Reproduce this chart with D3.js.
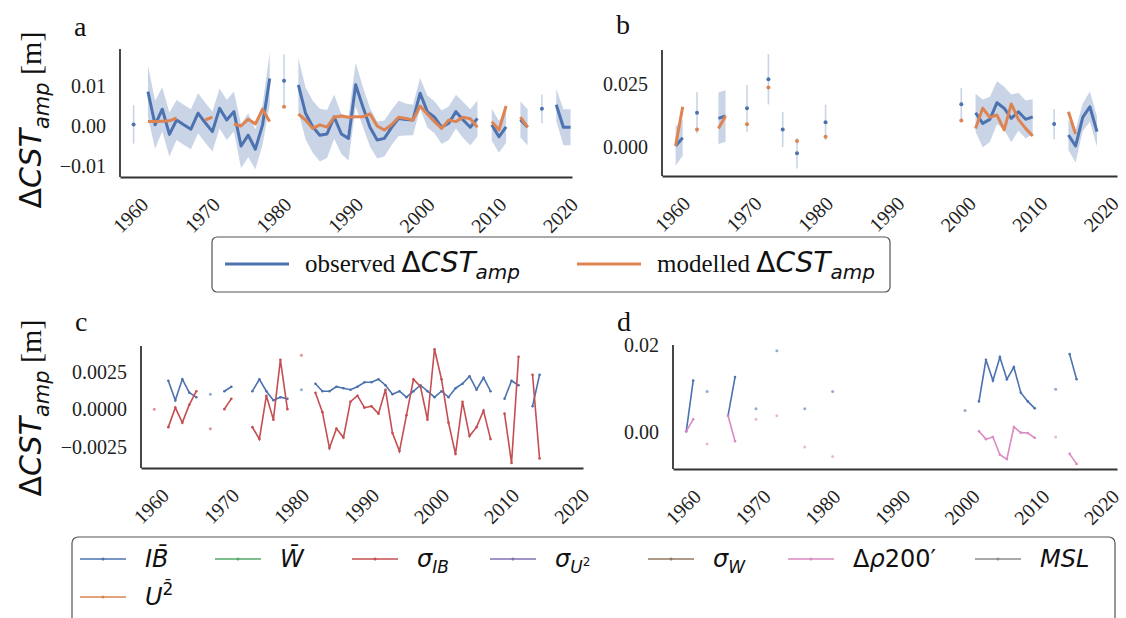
<!DOCTYPE html>
<html>
<head>
<meta charset="utf-8">
<script src="https://cdn.jsdelivr.net/npm/d3@7"></script>
<style>
  body { margin: 0; background: #fff; }
  svg { display: block; }
</style>
</head>
<body>
<div id="chart"></div>
<script>
// ---------- data ----------
// panel a : observed / modelled amplitude change, with half-width of the confidence band
const yearsA = [1960,
  1962,1963,1964,1965,1966,1967,1968,1969,1970,1971,1972,1973,1974,1975,1976,1977,1978,1979,
  1981,
  1983,1984,1985,1986,1987,1988,1989,1990,1991,1992,1993,1994,1995,1996,1997,1998,1999,2000,2001,2002,2003,2004,2005,2006,2007,2008,
  2010,2011,2012, 2014,2015, 2017, 2019,2020,2021];
const obsA = [0.0004,
  0.0086,0.0003,0.0042,-0.0021,0.0015,0.0003,-0.0008,0.0032,0.0008,-0.0014,0.0044,0.0015,0.0036,-0.005,-0.0023,-0.0058,0.0003,0.0119,
  0.0113,
  0.0103,0.0032,-0.0002,-0.0023,-0.002,0.0023,-0.002,-0.0031,0.0103,0.0048,-0.0003,-0.0035,-0.0031,-0.0004,0.0019,0.0016,0.0015,0.0082,0.0036,0.0022,-0.0003,0.0007,0.0036,0.0015,-0.0003,0.0019,
  0.0003,-0.0027,-0.0002, 0.0016,-0.0003, 0.0043, 0.0053,-0.0003,-0.0003];
const modA = [null,
  0.0011,0.0011,0.0012,0.0013,0.002,null,null,null,0.0015,0.0022,null,null,0.0005,0.0,0.0017,0.0005,0.0042,0.0011,
  0.0048,
  0.003,0.0015,-0.0006,0.0003,-0.0003,0.0022,0.0025,0.0022,0.0023,0.0023,0.003,0.0,-0.001,0.0003,0.0022,0.0019,0.0015,0.005,0.003,0.0011,-0.0006,0.0015,0.0011,0.0022,0.0018,-0.0003,
  0.0011,-0.001,0.005, 0.0022,-0.0003, null, null,null,null];
const ciA = [0.0048,
  0.0065,0.006,0.0055,0.0055,0.005,0.005,0.005,0.005,0.005,0.005,0.005,0.005,0.005,0.0055,0.0055,0.005,0.005,0.0065,
  0.0066,
  0.0067,0.0065,0.0065,0.0066,0.006,0.0055,0.005,0.0055,0.0055,0.005,0.0048,0.0046,0.0045,0.0044,0.0044,0.004,0.0038,0.0038,0.004,0.004,0.0042,0.0042,0.0042,0.0045,0.0045,0.0045,
  0.004,0.004,0.004, 0.0045,0.0045, 0.0036, 0.004,0.0045,0.0045];

// panel b
const yearsB = [1960,1961, 1963, 1966,1967, 1970, 1973, 1975, 1977, 1981, 2000,
  2002,2003,2004,2005,2006,2007,2008,2009,2010, 2013, 2015,2016,2017,2018,2019];
const obsB = [0.0005,0.0038, 0.0137, 0.0115,0.0124, 0.0155, 0.027, 0.0071, -0.0024, 0.0099, 0.0171,
  0.0137,0.0095,0.0111,0.0177,0.0155,0.0115,0.0141,0.0111,0.0121, 0.0092, 0.0049,0.0005,0.0119,0.0161,0.0062];
const modB = [0.0005,0.0161, 0.0071, 0.0075,0.0124, 0.0091, 0.0237, null, 0.0025, 0.0042, 0.0106,
  0.0075,0.0155,0.0119,0.0128,0.0069,0.0172,0.0111,0.0075,0.0045, null, 0.0141,0.0053,null,null,null];
const ciB = [0.0078,0.0072, 0.0082, 0.0102,0.0102, 0.0093, 0.01, 0.007, 0.006, 0.007, 0.0065,
  0.0075,0.0095,0.009,0.0085,0.0085,0.0095,0.0075,0.0075,0.007, 0.006, 0.006,0.0065,0.0055,0.006,0.006];

// panel c : components
const yearsC = [1960, 1962,1963,1964,1965,1966, 1968, 1970,1971, 1974,1975,1976,1977,1978,1979, 1981,
  1983,1984,1985,1986,1987,1988,1989,1990,1991,1992,1993,1994,1995,1996,1997,1998,1999,2000,2001,2002,2003,2004,2005,2006,2007,2008,
  2010,2011,2012, 2014,2015];
const ibC = [null, 0.0019,0.0006,0.002,0.0011,0.0008, 0.001, 0.0012,0.0015, 0.0012,0.002,0.0012,0.0006,0.0008,0.0007, 0.0013,
  0.0017,0.0012,0.0012,0.0015,0.0014,0.0013,0.0015,0.0018,0.0018,0.002,0.0016,0.001,0.0012,0.0008,0.0012,0.0016,0.0012,0.0008,0.0012,0.0008,0.0014,0.0017,0.0022,0.0013,0.0021,0.0012,
  0.0007,0.0019,0.0016, 0.0002,0.0023];
const sigIbC = [0.0, -0.0012,0.0001,-0.0009,0.0003,0.0012, -0.0013, 0.0,0.0007, -0.0012,-0.002,0.0009,-0.0007,0.0033,0.0, 0.0036,
  0.0011,-0.0002,-0.0026,-0.0013,-0.0019,0.0005,0.0009,0.0001,0.0002,-0.0003,0.0013,-0.0016,-0.0028,-0.0004,0.002,0.0015,-0.0007,0.004,0.002,-0.0009,-0.003,0.0005,-0.0018,-0.0012,-0.0001,-0.002,
  -0.0003,-0.0036,0.0035, 0.0023,-0.0033];

// panel d
const yearsD = [1960,1961, 1963, 1966,1967, 1970, 1973, 1977, 1981, 2000,
  2002,2003,2004,2005,2006,2007,2008,2009,2010, 2013, 2015,2016];
const ibD = [0.0001,0.0118, 0.0093, 0.0037,0.0126, 0.0053, 0.0187, 0.0053, 0.0093, 0.0049,
  0.007,0.0166,0.0118,0.0172,0.0121,0.0149,0.009,0.007,0.0054, 0.0098, 0.0179,0.0121];
const rhoD = [0.0001,0.0029, -0.0028, 0.0037,-0.0022, 0.0029, 0.0037, -0.0035, -0.0057, null,
  0.0001,-0.0017,-0.0012,-0.0053,-0.0063,0.0011,-0.0002,-0.0003,-0.0014, -0.0012, -0.0051,-0.0074];

const xTickYears = [1960, 1970, 1980, 1990, 2000, 2010, 2020];

// ---------- style ----------
const C = {blue: "#4c72b0", orange: "#dd8452", green: "#55a868", red: "#c44e52",
  purple: "#8172b3", brown: "#937860", pink: "#da8bc3", gray: "#8c8c8c"};
const MATH = "DejaVu Sans", SERIF = "Liberation Serif, Times New Roman, serif";

const width = 1126, height = 618;
const svg = d3.select("#chart").append("svg")
  .attr("width", width).attr("height", height)
  .attr("viewBox", [0, 0, width, height]);

// panel boxes (pixels)
const panels = {
  a: {x0: 120, x1: 572, xdom: [1958.6, 2021.7], top: 49, bot: 177, ydom: [-0.01275, 0.01925], ticks: [-0.01, 0, 0.01], fmt: ".2f"},
  b: {x0: 662, x1: 1117, xdom: [1958.6, 2022.3], top: 50, bot: 176, ydom: [-0.01139, 0.03861], ticks: [0, 0.025], fmt: ".3f"},
  c: {x0: 141, x1: 583, xdom: [1958.6, 2021.7], top: 346, bot: 468, ydom: [-0.00393, 0.00422], ticks: [-0.0025, 0, 0.0025], fmt: ".4f"},
  d: {x0: 673, x1: 1117, xdom: [1958.6, 2022.3], top: 345, bot: 469, ydom: [-0.00858, 0.02], ticks: [0, 0.02], fmt: ".2f"}
};

function runs(years) {
  const out = [];
  let cur = [0];
  for (let i = 1; i < years.length; i++) {
    if (years[i] - years[i - 1] === 1) cur.push(i);
    else { out.push(cur); cur = [i]; }
  }
  out.push(cur);
  return out;
}

function scales(p) {
  const x = d3.scaleLinear().domain(p.xdom).range([p.x0, p.x1]);
  const y = d3.scaleLinear().domain(p.ydom).range([p.bot, p.top]);
  return {x, y};
}

function drawAxes(p, x, y) {
  const gy = svg.append("g").attr("transform", `translate(${p.x0},0)`)
    .call(d3.axisLeft(y).tickValues(p.ticks).tickSize(0).tickSizeOuter(0).tickPadding(14).tickFormat(d3.format(p.fmt)));
  gy.select(".domain").attr("stroke", "#333").attr("stroke-width", 1.8)
    .attr("d", `M0,${p.bot}V${p.top}`);
  gy.selectAll("text").attr("font-family", SERIF).attr("font-size", 20).attr("fill", "#222");

  const gx = svg.append("g").attr("transform", `translate(0,${p.bot})`)
    .call(d3.axisBottom(x).tickValues(xTickYears).tickSize(0).tickSizeOuter(0).tickFormat(d3.format("d")));
  gx.select(".domain").attr("stroke", "#333").attr("stroke-width", 1.8);
  gx.selectAll("text")
    .attr("font-family", SERIF).attr("font-size", 20).attr("fill", "#222")
    .attr("y", 0).attr("dy", "0.35em")
    .attr("text-anchor", "middle")
    .attr("transform", "translate(0,38) rotate(-45)");
}

function drawModelPanel(p, years, obs, mod, ci) {
  const {x, y} = scales(p);
  const g = svg.append("g");
  const X = i => x(years[i] + 0.5);
  runs(years).forEach(r => {
    if (r.length > 1) {
      g.append("path").datum(r)
        .attr("d", d3.area().x(X).y0(i => y(obs[i] - ci[i])).y1(i => y(obs[i] + ci[i])))
        .attr("fill", C.blue).attr("fill-opacity", 0.3);
      g.append("path").datum(r)
        .attr("d", d3.line().x(X).y(i => y(obs[i])))
        .attr("fill", "none").attr("stroke", C.blue).attr("stroke-width", 3).attr("stroke-linejoin", "round");
      g.append("path").datum(r)
        .attr("d", d3.line().defined(i => mod[i] != null).x(X).y(i => y(mod[i])))
        .attr("fill", "none").attr("stroke", C.orange).attr("stroke-width", 3).attr("stroke-linejoin", "round");
    } else {
      const i = r[0];
      g.append("line")
        .attr("x1", X(i)).attr("x2", X(i))
        .attr("y1", y(obs[i] - ci[i])).attr("y2", y(obs[i] + ci[i]))
        .attr("stroke", C.blue).attr("stroke-opacity", 0.3).attr("stroke-width", 1.6);
      g.append("circle").attr("cx", X(i)).attr("cy", y(obs[i])).attr("r", 2).attr("fill", C.blue);
      if (mod[i] != null)
        g.append("circle").attr("cx", X(i)).attr("cy", y(mod[i])).attr("r", 2).attr("fill", C.orange);
    }
  });
  drawAxes(p, x, y);
}

function drawCompPanel(p, years, series) {
  const {x, y} = scales(p);
  const g = svg.append("g");
  const X = i => x(years[i] + 0.5);
  runs(years).forEach(r => {
    series.forEach(s => {
      const pts = r.filter(i => s.vals[i] != null);
      if (r.length > 1) {
        g.append("path").datum(r)
          .attr("d", d3.line().defined(i => s.vals[i] != null).x(X).y(i => y(s.vals[i])))
          .attr("fill", "none").attr("stroke", s.color).attr("stroke-width", 1.6);
      }
      g.selectAll(null).data(pts).join("circle")
        .attr("cx", X).attr("cy", i => y(s.vals[i]))
        .attr("r", r.length > 1 ? 1.3 : 1.5)
        .attr("fill", s.color).attr("fill-opacity", r.length > 1 ? 1 : 0.6);
    });
  });
  drawAxes(p, x, y);
}

drawModelPanel(panels.a, yearsA, obsA, modA, ciA);
drawModelPanel(panels.b, yearsB, obsB, modB, ciB);
drawCompPanel(panels.c, yearsC, [{vals: ibC, color: C.blue}, {vals: sigIbC, color: C.red}]);
drawCompPanel(panels.d, yearsD, [{vals: ibD, color: C.blue}, {vals: rhoD, color: C.pink}]);

// ---------- text helpers ----------
function rich(text, parts) {
  parts.forEach(q => {
    text.append("tspan")
      .attr("font-family", q.f || MATH)
      .attr("font-style", q.i ? "italic" : "normal")
      .attr("font-size", q.s)
      .attr("dy", q.dy || 0)
      .text(q.t);
  });
  return text;
}

const cstParts = (s, ss) => [
  {t: "Δ", s: s}, {t: "CST", s: s, i: 1}, {t: "amp", s: ss, i: 1, dy: s * 0.25}
];

// panel letters
[["a", 74, 36], ["b", 616, 34], ["c", 75, 331], ["d", 617, 331]].forEach(([t, px, py]) => {
  svg.append("text").attr("x", px).attr("y", py)
    .attr("font-family", SERIF).attr("font-size", 28).attr("fill", "#111").text(t);
});

// y labels
[[120], [408]].forEach(([cy]) => {
  const t = svg.append("text").attr("transform", `translate(41,${cy}) rotate(-90)`)
    .attr("text-anchor", "middle").attr("fill", "#111");
  rich(t, cstParts(30, 21).concat([{t: " [m]", s: 30, f: SERIF, dy: -30 * 0.25}]));
});

// middle legend
const lg = svg.append("g");
lg.append("rect").attr("x", 212).attr("y", 237).attr("width", 678).attr("height", 55)
  .attr("rx", 5).attr("fill", "#fff").attr("stroke", "#555").attr("stroke-width", 1.2);
[{c: C.blue, x: 225, word: "observed "}, {c: C.orange, x: 577, word: "modelled "}].forEach(e => {
  lg.append("line").attr("x1", e.x).attr("x2", e.x + 64).attr("y1", 264).attr("y2", 264)
    .attr("stroke", e.c).attr("stroke-width", 3);
  const t = lg.append("text").attr("x", e.x + 80).attr("y", 272).attr("fill", "#111");
  rich(t, [{t: e.word, s: 25, f: SERIF}].concat(cstParts(28, 20)));
});

// bottom legend
const bl = svg.append("g");
bl.append("rect").attr("x", 72).attr("y", 537).attr("width", 1043).attr("height", 95)
  .attr("rx", 6).attr("fill", "#fff").attr("stroke", "#555").attr("stroke-width", 1.2);
const S = 24, SS = 17;
const legendItems = [
  {c: C.blue, col: 80, row: 0, parts: [{t: "I", s: S, i: 1}, {t: "B\u0304", s: S, i: 1}]},
  {c: C.orange, col: 80, row: 1, parts: [{t: "U", s: S, i: 1}, {t: "2\u0304", s: SS, dy: -10}]},
  {c: C.green, col: 215, row: 0, parts: [{t: "W\u0304", s: S, i: 1}]},
  {c: C.red, col: 352, row: 0, parts: [{t: "σ", s: S, i: 1}, {t: "IB", s: SS, i: 1, dy: 6}]},
  {c: C.purple, col: 490, row: 0, parts: [{t: "σ", s: S, i: 1}, {t: "U", s: SS, i: 1, dy: 6}, {t: "2", s: 12, dy: -7}]},
  {c: C.brown, col: 648, row: 0, parts: [{t: "σ", s: S, i: 1}, {t: "W", s: SS, i: 1, dy: 6}]},
  {c: C.pink, col: 788, row: 0, parts: [{t: "Δ", s: S}, {t: "ρ", s: S, i: 1}, {t: "200′", s: S}]},
  {c: C.gray, col: 975, row: 0, parts: [{t: "MSL", s: S, i: 1}]}
];
legendItems.forEach(e => {
  const yy = 559 + e.row * 38;
  bl.append("line").attr("x1", e.col).attr("x2", e.col + 46).attr("y1", yy).attr("y2", yy)
    .attr("stroke", e.c).attr("stroke-width", 1.6);
  bl.append("circle").attr("cx", e.col + 23).attr("cy", yy).attr("r", 1.5).attr("fill", e.c);
  const t = bl.append("text").attr("x", e.col + 65).attr("y", yy + 8).attr("fill", "#111");
  rich(t, e.parts);
});
</script>
</body>
</html>
